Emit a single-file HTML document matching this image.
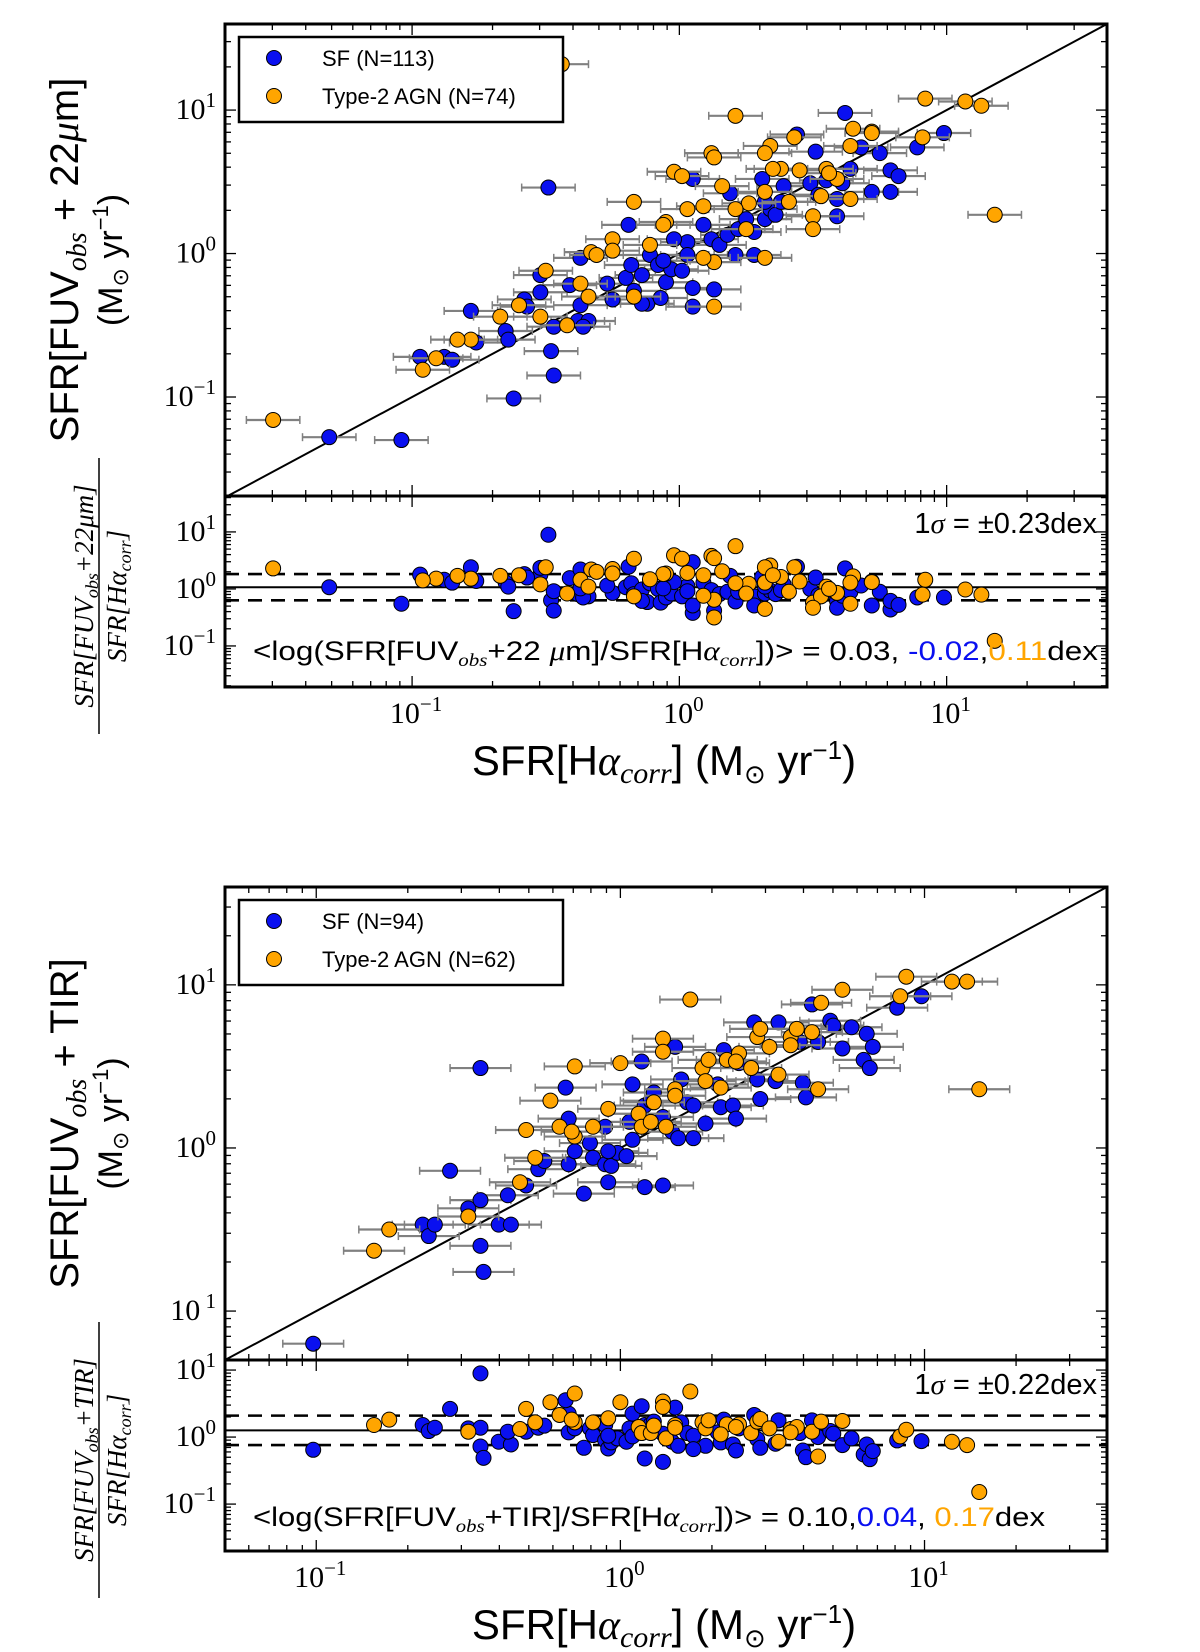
<!DOCTYPE html>
<html><head><meta charset="utf-8"><title>SFR comparison</title>
<style>
html,body{margin:0;padding:0;background:#fff;}
svg{display:block;}
text{font-family:"Liberation Sans",sans-serif;fill:#000;}
.serif{font-family:"Liberation Serif",serif;}
</style></head>
<body>
<svg id="chart" xmlns="http://www.w3.org/2000/svg" width="1200" height="1652" viewBox="0 0 1200 1652">
<rect x="0" y="0" width="1200" height="1652" fill="#fff"/>
<defs>
<clipPath id="clipA"><rect x="225" y="24" width="882" height="472"/></clipPath>
<clipPath id="clipB"><rect x="225" y="496" width="882" height="191"/></clipPath>
<clipPath id="clipC"><rect x="225" y="887" width="882" height="473"/></clipPath>
<clipPath id="clipD"><rect x="225" y="1360" width="882" height="191"/></clipPath>
</defs>
<g id="layer"></g>
</svg>
<script>
// ---- Panel 1 data: log10 SFR values (x = Halpha_corr, y = FUV_obs+22um)
const p1SfLogX = [-1.31,-1.04,-0.62,-0.49,-0.48,-0.47,-0.97,-0.88,-0.85,-0.78,-0.76,-0.65,-0.64,-0.58,-0.52,-0.47,-0.38,-0.34,-0.36,-0.37,-0.41,-0.37,-0.25,-0.27,-0.20,-0.19,-0.18,-0.17,-0.14,-0.12,-0.11,-0.08,-0.07,-0.05,-0.03,0.01,0.03,0.03,0.05,0.05,0.09,0.12,0.13,0.15,0.18,0.19,0.21,0.22,0.25,0.28,0.31,0.32,0.34,0.36,0.39,0.44,0.49,0.51,0.52,0.55,0.59,0.59,0.61,0.62,0.64,0.68,0.72,0.75,0.79,0.79,0.82,0.89,0.99,0.38,0.32,-0.02,-0.06,0.28,0.05,-0.14,-0.52,-0.57];
const p1SfLogY = [-1.28,-1.30,-1.01,0.46,-0.68,-0.85,-0.72,-0.72,-0.74,-0.40,-0.62,-0.54,-0.60,-0.32,-0.27,-0.51,-0.47,-0.47,-0.51,-0.36,-0.22,-0.03,-0.32,-0.21,-0.17,0.20,-0.08,-0.26,-0.15,-0.35,-0.01,-0.08,-0.31,-0.20,-0.11,-0.12,0.08,-0.01,-0.37,0.52,0.20,0.10,-0.25,0.06,0.13,0.42,-0.01,0.17,0.24,0.15,0.52,0.24,0.31,0.27,0.47,0.83,0.49,0.71,0.41,0.51,0.38,0.26,0.49,0.98,0.59,0.74,0.43,0.70,0.43,0.58,0.54,0.74,0.84,0.36,0.36,0.10,-0.05,-0.01,-0.24,-0.35,-0.15,-0.37];
const p1AgnLogX = [-1.52,-0.44,0.21,0.92,1.07,1.13,1.18,0.91,0.72,0.65,0.43,0.34,0.12,0.13,-0.02,-0.17,0.16,0.09,0.03,-0.05,0.38,0.45,0.55,0.32,0.26,0.41,0.50,0.64,0.32,0.13,0.09,0.13,-0.06,-0.11,-0.25,-0.33,-0.25,-0.50,-0.37,-0.34,-0.42,-0.52,-0.60,-0.67,-0.78,-0.83,-0.91,-0.96,-0.31,0.64,0.72,0.53,0.59,0.32,0.21,0.50,0.56,0.25,0.35,0.01,-0.17];
const p1AgnLogY = [-1.16,1.32,0.96,1.08,1.06,1.03,0.27,0.81,0.85,0.87,0.81,0.75,0.70,0.67,0.57,0.36,0.47,0.33,0.31,0.22,0.59,0.58,0.59,0.43,0.35,0.36,0.26,0.38,-0.03,-0.06,-0.03,-0.37,0.20,0.06,0.10,0.01,0.02,-0.12,-0.21,-0.30,-0.50,-0.44,-0.36,-0.44,-0.60,-0.60,-0.73,-0.81,-0.01,0.75,0.84,0.40,0.52,0.70,0.31,0.17,0.56,0.17,0.59,0.54,-0.30];

// ---- Panel 2 data: log10 SFR values (x = Halpha_corr, y = FUV_obs+TIR)
const p2SfLogX = [-1.01,-0.46,-0.56,-0.65,-0.63,-0.61,-0.50,-0.46,-0.46,-0.45,-0.40,-0.36,-0.37,-0.31,-0.27,-0.25,-0.17,-0.18,-0.17,-0.15,-0.12,-0.10,-0.09,-0.05,-0.05,-0.04,-0.03,-0.01,0.02,0.03,0.04,0.04,0.07,0.08,0.08,0.10,0.11,0.14,0.14,0.17,0.18,0.19,0.20,0.22,0.24,0.28,0.32,0.33,0.34,0.37,0.39,0.44,0.45,0.46,0.51,0.52,0.59,0.60,0.61,0.63,0.65,0.69,0.70,0.73,0.76,0.80,0.81,0.82,0.83,0.91,0.99,0.38,0.24,-0.04];
const p2SfLogY = [-1.20,0.49,-0.14,-0.47,-0.54,-0.47,-0.37,-0.32,-0.60,-0.76,-0.47,-0.47,-0.29,-0.23,-0.13,-0.08,0.18,0.37,-0.10,-0.02,-0.28,0.03,-0.06,0.13,-0.10,-0.21,-0.11,-0.03,-0.05,0.16,0.39,0.05,0.53,-0.24,0.26,0.29,0.34,-0.23,0.19,0.10,0.62,0.06,0.42,0.28,0.26,0.15,0.39,0.25,0.60,0.26,0.52,0.77,0.42,0.30,0.41,0.77,0.65,0.40,0.31,0.88,0.65,0.78,0.75,0.61,0.74,0.54,0.70,0.49,0.62,0.86,0.93,0.18,0.06,-0.02];
const p2AgnLogX = [-0.81,-0.76,-0.50,-0.33,-0.31,-0.28,-0.23,-0.20,-0.15,-0.15,-0.09,-0.04,0.00,0.06,0.07,0.10,0.11,0.14,0.14,0.18,0.23,0.27,0.28,0.29,0.35,0.39,0.43,0.45,0.46,0.49,0.52,0.56,0.58,0.63,0.65,0.66,0.73,0.92,0.94,1.09,1.14,1.18,0.38,0.33,0.15,0.18,-0.16,0.56];
const p2AgnLogY = [-0.63,-0.50,-0.42,-0.21,0.11,-0.06,0.29,0.13,0.07,0.50,0.13,0.24,0.52,0.21,0.13,0.16,0.28,0.67,0.59,0.36,0.91,0.49,0.41,0.54,0.54,0.58,0.49,0.68,0.73,0.62,0.45,0.68,0.73,0.71,0.36,0.89,0.97,0.93,1.05,1.02,1.02,0.36,0.53,0.37,0.13,0.32,0.10,0.63];

const legendLabels1 = ["SF (N=113)", "Type-2 AGN (N=74)"];
const legendLabels2 = ["SF (N=94)", "Type-2 AGN (N=62)"];
const xTickExps = [-1, 0, 1];
const yTickExps = [-1, 0, 1];
const stats1 = {mean: 0.03, sigma: 0.23};
const stats2 = {mean: 0.10, sigma: 0.22};

const NS = "http://www.w3.org/2000/svg";
const layer = document.getElementById("layer");
const BLUE = "#0a10f0", ORANGE = "#ffa500";

function mk(tag, attrs, parent) {
  const e = document.createElementNS(NS, tag);
  for (const k in attrs) e.setAttribute(k, attrs[k]);
  (parent || layer).appendChild(e);
  return e;
}

function axisFn(d0, d1, p0, p1) {
  return v => p0 + (v - d0) / (d1 - d0) * (p1 - p0);
}

function tickLabel(parent, x, y, exp, anchor, noMinus) {
  const t = mk("text", {x: x, y: y, "text-anchor": anchor, "font-size": 30, class: "serif"}, parent);
  
  
  const a = document.createElementNS(NS, "tspan"); a.textContent = "10"; t.appendChild(a);
  const b = document.createElementNS(NS, "tspan");
  b.setAttribute("dy", -12); b.setAttribute("font-size", 21);
  b.textContent = exp < 0 ? (noMinus ? " 1" : "\u22121") : String(exp);
  t.appendChild(b);
  return t;
}

function drawTicks(g, sx, sy, xmin, xmax, ymin, ymax, L, R, T, B, withXLabels, yLabelOpts) {
  for (let e = Math.floor(xmin); e <= Math.ceil(xmax); e++) {
    for (let m = 1; m <= 9; m++) {
      const v = e + Math.log10(m);
      if (v < xmin || v > xmax) continue;
      const x = sx(v), len = m === 1 ? 11 : 6;
      mk("line", {x1: x, y1: B, x2: x, y2: B - len, stroke: "#000", "stroke-width": 1.3}, g);
      mk("line", {x1: x, y1: T, x2: x, y2: T + len, stroke: "#000", "stroke-width": 1.3}, g);
    }
  }
  for (let e = Math.floor(ymin); e <= Math.ceil(ymax); e++) {
    for (let m = 1; m <= 9; m++) {
      const v = e + Math.log10(m);
      if (v < ymin || v > ymax) continue;
      const y = sy(v), len = m === 1 ? 11 : 6;
      mk("line", {x1: L, y1: y, x2: L + len, y2: y, stroke: "#000", "stroke-width": 1.3}, g);
      mk("line", {x1: R, y1: y, x2: R - len, y2: y, stroke: "#000", "stroke-width": 1.3}, g);
    }
  }
  if (withXLabels) {
    xTickExps.forEach(e => tickLabel(g, sx(e) + 4, B + 36, e, "middle", false));
  }
  yTickExps.forEach(e => {
    if (e < ymin || e > ymax) return;
    tickLabel(g, 216, sy(e) + 9, e, "end", yLabelOpts && yLabelOpts.noMinus && e < 0);
  });
}

function drawPanel(cfg) {
  const g = mk("g", {});
  
  
  const L = 225, R = 1107;
  const sx = axisFn(cfg.xMin, cfg.xMax, L, R);
  const sy = axisFn(cfg.yMin, cfg.yMax, cfg.mainBot, cfg.top);
  const sr = axisFn(cfg.rMin, cfg.rMax, cfg.resBot, cfg.mainBot);

  const main = mk("g", {"clip-path": "url(#" + cfg.clipMain + ")"}, g);
  
  
  const diag = mk("line", {x1: sx(-3), y1: sy(-3), x2: sx(3), y2: sy(3), stroke: "#000", "stroke-width": 2}, main);
  
  

  const series = [
    {xs: cfg.sfX, ys: cfg.sfY, color: BLUE, nm: "sf"},
    {xs: cfg.agnX, ys: cfg.agnY, color: ORANGE, nm: "agn"}
  ];
  const err = 0.1;
  series.forEach(s => {
    const eg = mk("g", {}, main);
    
    
    s.xs.forEach((lx, i) => {
      const y = sy(s.ys[i]), x1 = sx(lx - err), x2 = sx(lx + err);
      mk("line", {x1: x1, y1: y, x2: x2, y2: y, stroke: "#808080", "stroke-width": 2.2}, eg);
      mk("line", {x1: x1, y1: y - 4, x2: x1, y2: y + 4, stroke: "#808080", "stroke-width": 1.5}, eg);
      mk("line", {x1: x2, y1: y - 4, x2: x2, y2: y + 4, stroke: "#808080", "stroke-width": 1.5}, eg);
    });
    const pg = mk("g", {}, main);
    
    
    s.xs.forEach((lx, i) => {
      const c = mk("circle", {cx: sx(lx), cy: sy(s.ys[i]), r: 7.5, fill: s.color, stroke: "#000", "stroke-width": 1}, pg);
      
      
    });
  });

  const res = mk("g", {"clip-path": "url(#" + cfg.clipRes + ")"}, g);
  
  
  const mline = mk("line", {x1: L, y1: sr(cfg.stats.mean), x2: R, y2: sr(cfg.stats.mean), stroke: "#000", "stroke-width": 2}, res);
  
  
  [1, -1].forEach(sgn => {
    const v = cfg.stats.mean + sgn * cfg.stats.sigma;
    const dl = mk("line", {x1: L, y1: sr(v), x2: R, y2: sr(v), stroke: "#000", "stroke-width": 2.6, "stroke-dasharray": "14,9"}, res);
    
    
  });
  series.forEach(s => {
    s.xs.forEach((lx, i) => {
      const c = mk("circle", {cx: sx(lx), cy: sr(s.ys[i] - lx), r: 7.5, fill: s.color, stroke: "#000", "stroke-width": 1}, res);
      
      
    });
  });

  const f1 = mk("rect", {x: L, y: cfg.top, width: R - L, height: cfg.mainBot - cfg.top, fill: "none", stroke: "#000", "stroke-width": 3}, g);
  
  
  const f2 = mk("rect", {x: L, y: cfg.mainBot, width: R - L, height: cfg.resBot - cfg.mainBot, fill: "none", stroke: "#000", "stroke-width": 3}, g);
  
  

  drawTicks(g, sx, sy, cfg.xMin, cfg.xMax, cfg.yMin, cfg.yMax, L, R, cfg.top, cfg.mainBot, false, {noMinus: cfg.noMinus});
  drawTicks(g, sx, sr, cfg.xMin, cfg.xMax, cfg.rMin, cfg.rMax, L, R, cfg.mainBot, cfg.resBot, true, null);

  const lg = mk("g", {}, g);
  
  
  const ly = cfg.top + 13;
  mk("rect", {x: 239, y: ly, width: 324, height: 85, fill: "#fff", stroke: "#000", "stroke-width": 2.5}, lg);
  [[BLUE, cfg.legend[0], 21], [ORANGE, cfg.legend[1], 59]].forEach((it, k) => {
    const c = mk("circle", {cx: 274, cy: ly + it[2], r: 7.5, fill: it[0], stroke: "#000", "stroke-width": 1}, lg);
    
    
    const t = mk("text", {x: 322, y: ly + it[2] + 8, "font-size": 22}, lg);
    t.textContent = it[1];
    
    
  });

  const st = mk("text", {x: 1097, y: cfg.sigmaY, "text-anchor": "end", "font-size": 29}, g);
  
  
  st.innerHTML = '1<tspan class="serif" font-style="italic">σ</tspan> = ±' + cfg.stats.sigma.toFixed(2) + 'dex';

  const mt = mk("text", {x: 253, y: cfg.meanY, "font-size": 27, textLength: cfg.meanLen, lengthAdjust: "spacingAndGlyphs"}, g);
  
  
  mt.innerHTML = cfg.meanHtml;

  const yl = mk("text", {transform: "translate(78," + ((cfg.top + cfg.mainBot) / 2) + ") rotate(-90)", "text-anchor": "middle", "font-size": 40}, g);
  
  
  yl.innerHTML = cfg.yTitle;
  const yl2 = mk("text", {transform: "translate(122," + ((cfg.top + cfg.mainBot) / 2) + ") rotate(-90)", "text-anchor": "middle", "font-size": 34}, g);
  
  
  yl2.innerHTML = '(M<tspan font-size="22" dy="6">⊙</tspan><tspan dy="-6"> yr</tspan><tspan font-size="22" dy="-14">−1</tspan><tspan dy="14">)</tspan>';

  const cy = cfg.mainBot + 100;
  const fr = mk("g", {transform: "translate(0," + cy + ")"}, g);
  
  
  const num = mk("text", {transform: "translate(93,0) rotate(-90)", "text-anchor": "middle", "font-size": 27, class: "serif", "font-style": "italic"}, fr);
  num.innerHTML = cfg.resNum;
  mk("line", {x1: 99, y1: -138, x2: 99, y2: 138, stroke: "#000", "stroke-width": 1.5}, fr);
  const den = mk("text", {transform: "translate(126,0) rotate(-90)", "text-anchor": "middle", "font-size": 27, class: "serif", "font-style": "italic"}, fr);
  den.innerHTML = 'SFR[H<tspan>α</tspan><tspan font-size="18" dy="5">corr</tspan><tspan dy="-5">]</tspan>';

  const xl = mk("text", {x: 664, y: cfg.resBot + 88, "text-anchor": "middle", "font-size": 42}, g);
  
  
  xl.innerHTML = 'SFR[H<tspan class="serif" font-style="italic">α</tspan><tspan class="serif" font-style="italic" font-size="30" dy="8">corr</tspan><tspan dy="-8">]  (M</tspan><tspan font-size="26" dy="8">⊙</tspan><tspan dy="-8"> yr</tspan><tspan font-size="26" dy="-16">−1</tspan><tspan dy="16">)</tspan>';
}

drawPanel({
  name: "panel-fuv-22um", top: 24, mainBot: 496, resBot: 687,
  xMin: -1.7, xMax: 1.6, yMin: -1.69, yMax: 1.6, rMin: -1.72, rMax: 1.63,
  clipMain: "clipA", clipRes: "clipB",
  sfX: p1SfLogX, sfY: p1SfLogY, agnX: p1AgnLogX, agnY: p1AgnLogY,
  legend: legendLabels1, stats: stats1, sigmaY: 533, meanY: 660, meanLen: 845, noMinus: false,
  meanHtml: '&lt;log(SFR[FUV<tspan class="serif" font-style="italic" font-size="18" dy="6">obs</tspan><tspan dy="-6">+22 </tspan><tspan class="serif" font-style="italic">μ</tspan>m]/SFR[H<tspan class="serif" font-style="italic">α</tspan><tspan class="serif" font-style="italic" font-size="18" dy="6">corr</tspan><tspan dy="-6">])&gt; = 0.03, </tspan><tspan fill="#0a10f0">-0.02</tspan>,<tspan fill="#ffa500">0.11</tspan>dex',
  yTitle: 'SFR[FUV<tspan class="serif" font-style="italic" font-size="28" dy="8">obs</tspan><tspan dy="-8"> + 22</tspan><tspan class="serif" font-style="italic">μ</tspan>m]',
  resNum: 'SFR[FUV<tspan font-size="18" dy="5">obs</tspan><tspan dy="-5">+22</tspan>μm]'
});

drawPanel({
  name: "panel-fuv-tir", top: 887, mainBot: 1360, resBot: 1551,
  xMin: -1.3, xMax: 1.6, yMin: -1.3, yMax: 1.6, rMin: -1.7, rMax: 1.15,
  clipMain: "clipC", clipRes: "clipD",
  sfX: p2SfLogX, sfY: p2SfLogY, agnX: p2AgnLogX, agnY: p2AgnLogY,
  legend: legendLabels2, stats: stats2, sigmaY: 1394, meanY: 1526, meanLen: 792, noMinus: true,
  meanHtml: '&lt;log(SFR[FUV<tspan class="serif" font-style="italic" font-size="18" dy="6">obs</tspan><tspan dy="-6">+TIR]/SFR[H</tspan><tspan class="serif" font-style="italic">α</tspan><tspan class="serif" font-style="italic" font-size="18" dy="6">corr</tspan><tspan dy="-6">])&gt; = 0.10,</tspan><tspan fill="#0a10f0">0.04</tspan>, <tspan fill="#ffa500">0.17</tspan>dex',
  yTitle: 'SFR[FUV<tspan class="serif" font-style="italic" font-size="28" dy="8">obs</tspan><tspan dy="-8"> + TIR]</tspan>',
  resNum: 'SFR[FUV<tspan font-size="18" dy="5">obs</tspan><tspan dy="-5">+TIR]</tspan>'
});
</script>
</body></html>
